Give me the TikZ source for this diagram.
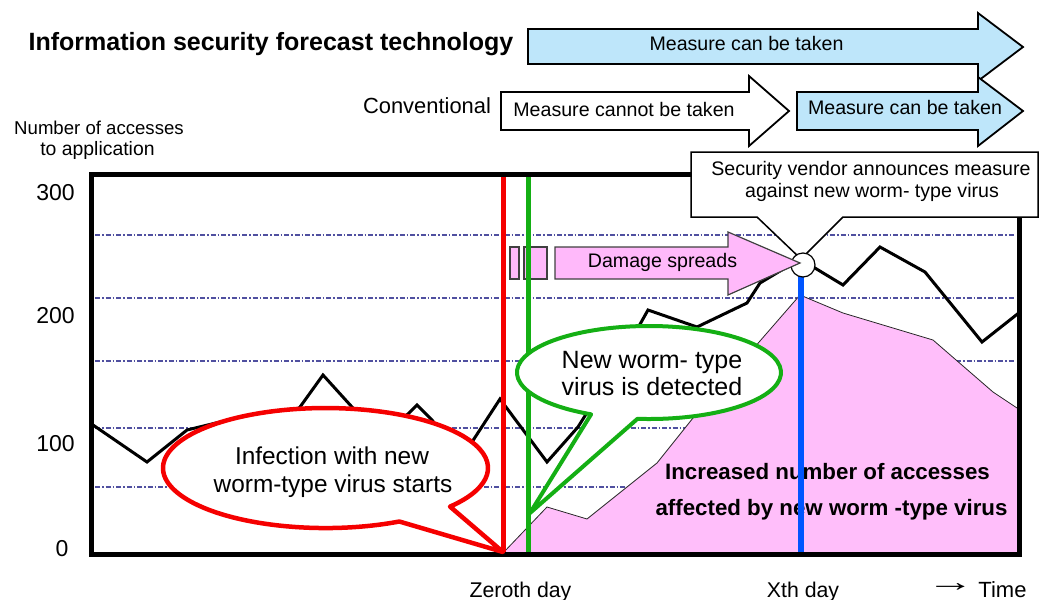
\documentclass[tikz,border=0pt]{standalone}
\usepackage{graphicx}
\usepackage{fontspec}
\setmainfont{Liberation Sans}
\newcommand\setfs[1]{\fontsize{#1}{#1}\selectfont}
\definecolor{pinkarea}{RGB}{255,190,250}
\definecolor{pinkbox}{RGB}{255,185,250}
\definecolor{lightblue}{RGB}{190,230,250}
\definecolor{gridc}{RGB}{80,80,160}
\definecolor{bred}{RGB}{245,0,0}
\definecolor{bgreen}{RGB}{20,175,20}
\definecolor{bblue}{RGB}{0,85,255}
\begin{document}
\begin{tikzpicture}[x=1pt,y=-1pt,
  lbl/.style={inner sep=0pt, anchor=base},
  gridline/.style={draw=gridc, line width=1.3pt, dash pattern=on 5pt off 2pt on 1.5pt off 2pt},
  bigarrow/.style={draw=black, line width=1.8pt, line join=miter},
  dmgshape/.style={draw=black!75, fill=pinkbox, line width=1.2pt},
]
\useasboundingbox (0,0) rectangle (1045,600);

% grid lines
\foreach \yy in {235,298,361,428,487} \draw[gridline] (95,\yy) -- (1015,\yy);

% affected area
\draw[fill=pinkarea, draw=black!85, line width=0.8pt] (503,553) -- (547,507) -- (587,519) -- (657,463) -- (693,418) -- (800,295) -- (843,313) -- (933,340) -- (993,392) -- (1020,410) -- (1020,553) -- cycle;
\node[lbl, font=\bfseries\setfs{22.3}] (aff1) at (827.5,479) {Increased number of accesses};
\node[lbl, font=\bfseries\setfs{22.3}] (aff2) at (831.5,515) {affected by new worm -type virus};

% total accesses line
\draw[line width=3pt, line join=miter] (93,425) -- (147,462) -- (187,430) -- (220,422) -- (260,440) -- (300,407) -- (323,375) -- (352,407) -- (380,440) -- (410,412) -- (417,405) -- (432,420) -- (455,450) -- (472,442) -- (500,399) -- (547,462) -- (578,427) -- (620,360) -- (648,310) -- (697,327) -- (747,303) -- (760,283) -- (800,259) -- (843,285) -- (880,247) -- (925,272) -- (982,342) -- (1020,312);

% small damage boxes
\draw[dmgshape] (510,247) rectangle (519,279);
\draw[dmgshape] (524,247) rectangle (547,279);

% vertical event lines
\draw[bred, line width=5pt] (503,173) -- (503,553);
\draw[bgreen, line width=5.5pt] (528.5,173) -- (528.5,553);
\draw[bblue, line width=5.5pt] (801,270) -- (801,553);

% chart frame
\draw[line width=5pt] (91.5,174.5) rectangle (1019.5,554.5);

% vendor callout
\draw[fill=white, line width=1.5pt, line join=miter] (691,152) -- (1038,152) -- (1038,217) -- (843,217) -- (801,259) -- (757,217) -- (691,217) -- cycle;
\node[lbl, font=\setfs{19.6}] (ven1) at (871,175) {Security vendor announces measure};
\node[lbl, font=\setfs{19.6}] (ven2) at (872,197) {against new worm- type virus};
\draw[fill=white, line width=1.2pt] (803,265) circle[radius=12pt];

% damage spreads arrow
\draw[dmgshape] (555,247) -- (728,247) -- (728,232) -- (800,263) -- (728,295) -- (728,279) -- (555,279) -- cycle;
\node[lbl, font=\setfs{19.6}] (dmg) at (662.5,267) {Damage spreads};

% red bubble
\draw[draw=bred, line width=4.5pt, fill=white, line join=round] (399.3,521.5) arc[start angle=63, end angle=400, x radius=162.5, y radius=60] -- (503,552) -- cycle;
\node[lbl, font=\setfs{24.4}] (red1) at (332,464) {Infection with new};
\node[lbl, font=\setfs{24.4}] (red2) at (333,492) {worm-type virus starts};

% green bubble
\draw[draw=bgreen, line width=4pt, fill=white, line join=round] (591.1,414.3) arc[start angle=116, end angle=455, x radius=132, y radius=46.5] -- (530,513) -- cycle;
\node[lbl, font=\setfs{25}] (grn1) at (652,368) {New worm- type};
\node[lbl, font=\setfs{25}] (grn2) at (652,395) {virus is detected};

% top arrows
\draw[bigarrow, fill=lightblue] (528,29) -- (978,29) -- (978,13) -- (1023,47) -- (978,81) -- (978,64) -- (528,64) -- cycle;
\draw[bigarrow, fill=white] (501,92) -- (749,92) -- (749,76) -- (789,111) -- (749,146) -- (749,130) -- (501,130) -- cycle;
\draw[bigarrow, fill=lightblue] (797,92) -- (978,92) -- (978,77) -- (1023,111) -- (978,146) -- (978,130) -- (797,130) -- cycle;
\node[lbl, font=\setfs{19.6}] (can1) at (746.5,50.5) {Measure can be taken};
\node[lbl, font=\setfs{19.6}] (cannot) at (624,116) {Measure cannot be taken};
\node[lbl, font=\setfs{19.6}] (can2) at (905,114.5) {Measure can be taken};

% headings
\node[lbl, font=\bfseries\setfs{25}] (title) at (271,50.7) {Information security forecast technology};
\node[lbl, font=\setfs{21.9}] (conv) at (427,113) {Conventional};
\node[lbl, font=\setfs{18.6}] (ylab1) at (99,134.5) {Number of accesses};
\node[lbl, font=\setfs{19.4}] (ylab2) at (97.5,155) {to application};

% axis numbers
\node[lbl, font=\setfs{23}] (t300) at (55.5,200) {300};
\node[lbl, font=\setfs{23}] (t200) at (55.5,323) {200};
\node[lbl, font=\setfs{23}] (t100) at (55.5,451.5) {100};
\node[lbl, font=\setfs{23}] (t0) at (62,556.5) {0};

% bottom labels
\node[lbl, font=\setfs{21.3}] (zero) at (520.5,597) {Zeroth day};
\node[lbl, font=\setfs{21.3}] (xth) at (803,597) {Xth day};
\node[lbl, font=\setfs{28}] (tarr) at (950.5,591.5) {\scalebox{1.7}[1]{→}};
\node[lbl, font=\setfs{22}] (time) at (1002.5,597) {Time};
\end{tikzpicture}
\end{document}
